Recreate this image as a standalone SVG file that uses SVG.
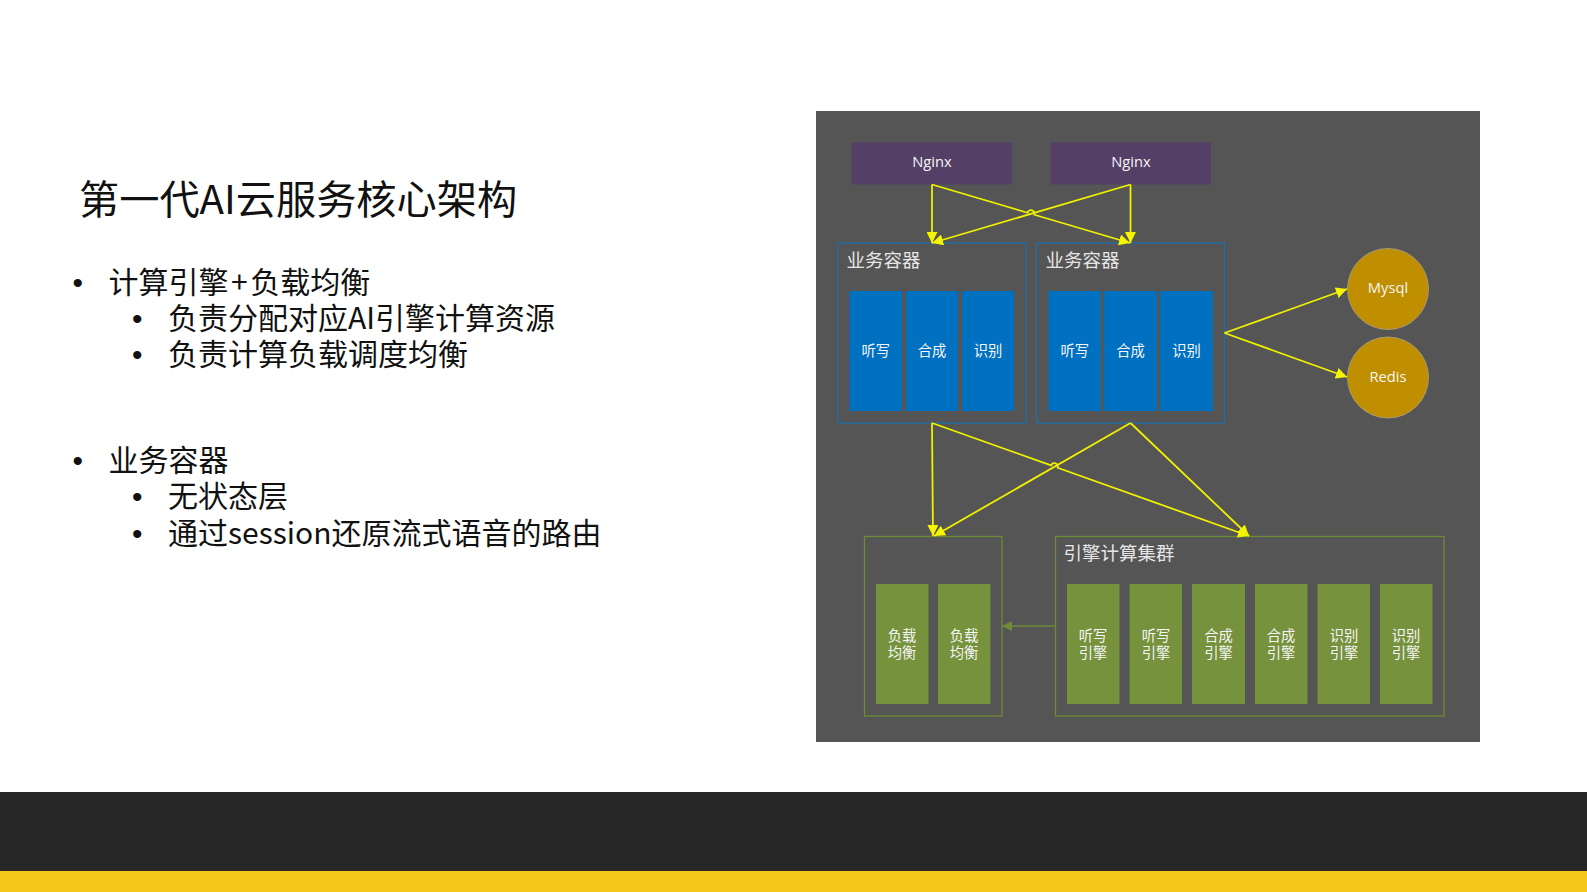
<svg xmlns="http://www.w3.org/2000/svg" width="1587" height="892" viewBox="0 0 1587 892">
<style>
text{font-family:"Noto Sans CJK SC","Noto Sans",sans-serif}
.h{font-size:40.200px;fill:#111}
.b{font-size:30px;fill:#111}
.d{font-size:30px;fill:#111;font-family:"Liberation Sans",sans-serif}
.l{font-size:14.300px;fill:#f5f5f5;text-anchor:middle}
.t{font-size:18.500px;fill:#e6e6e6}
.n{font-size:14.700px;fill:#f5f5f5;text-anchor:middle;font-family:"Open Sans",sans-serif}
.nx{fill:#543f66}
.bc{fill:none;stroke:#1f6fa8;stroke-width:1.300}
.bb{fill:#0070c0}
.gc{fill:none;stroke:#6f8a35;stroke-width:1.300}
.gb{fill:#76923c}
.db{fill:#bf8f00;stroke:#a69a74;stroke-width:1}
.y{fill:none;stroke:#f0f000;stroke-width:1.800}
.g{fill:none;stroke:#6f8a38;stroke-width:1.500}
</style>
<defs>
<marker id="ay" viewBox="0 0 10 10" refX="10" refY="5" markerWidth="11" markerHeight="11" markerUnits="userSpaceOnUse" orient="auto"><path d="M0 0L10 5L0 10Z" fill="#f5f500"/></marker>
<marker id="ag" viewBox="0 0 10 10" refX="10" refY="5" markerWidth="10" markerHeight="10" markerUnits="userSpaceOnUse" orient="auto"><path d="M0 0L10 5L0 10Z" fill="#6f8a38"/></marker>
</defs>
<rect width="1587" height="892" fill="#fff"/>
<rect x="0" y="792" width="1587" height="79" fill="#262626"/>
<rect x="0" y="871" width="1587" height="21" fill="#f5c71a"/>
<g id="slide-text">
<text class="h" x="79" y="214">第一代AI云服务核心架构</text>
<text class="d" x="72.500" y="293">•</text><text class="b" x="108.500" y="293">计算引擎<tspan dx="2.500">+</tspan><tspan dx="2.500">负载均衡</tspan></text>
<text class="d" x="132" y="329">•</text><text class="b" x="168" y="329">负责分配对应AI引擎计算资源</text>
<text class="d" x="132" y="365">•</text><text class="b" x="168" y="365">负责计算负载调度均衡</text>
<text class="d" x="72.500" y="471">•</text><text class="b" x="108.500" y="471">业务容器</text>
<text class="d" x="132" y="507">•</text><text class="b" x="168" y="507">无状态层</text>
<text class="d" x="132" y="544">•</text><text class="b" x="168" y="544">通过session还原流式语音的路由</text>
</g>
<rect id="panel" x="816" y="111" width="664" height="631" fill="#555555"/>
<g id="nginx-1"><rect class="nx" x="851.500" y="142.500" width="160.500" height="42"/><text class="n" x="932" y="167">Nginx</text></g>
<g id="nginx-2"><rect class="nx" x="1050.500" y="142.500" width="160.500" height="42"/><text class="n" x="1131" y="167">Nginx</text></g>
<g id="container-1"><rect class="bc" x="838" y="243" width="188" height="180"/><text class="t" x="846.500" y="267">业务容器</text>
<rect class="bb" x="849.500" y="291" width="52.500" height="120"/><text class="l" x="875.700" y="355.500">听写</text>
<rect class="bb" x="906" y="291" width="52" height="120"/><text class="l" x="932" y="355.500">合成</text>
<rect class="bb" x="962" y="291" width="52" height="120"/><text class="l" x="988" y="355.500">识别</text></g>
<g id="container-2"><rect class="bc" x="1036.500" y="243" width="188" height="180"/><text class="t" x="1045.500" y="267">业务容器</text>
<rect class="bb" x="1048.500" y="291" width="52.500" height="120"/><text class="l" x="1074.700" y="355.500">听写</text>
<rect class="bb" x="1104" y="291" width="53" height="120"/><text class="l" x="1130.500" y="355.500">合成</text>
<rect class="bb" x="1160" y="291" width="53" height="120"/><text class="l" x="1186.500" y="355.500">识别</text></g>
<g id="mysql"><circle class="db" cx="1388" cy="289" r="40.500"/><text class="n" x="1388" y="293">Mysql</text></g>
<g id="redis"><circle class="db" cx="1388" cy="377.500" r="40.500"/><text class="n" x="1388" y="382">Redis</text></g>
<g id="lb-group"><rect class="gc" x="864.500" y="536.500" width="137.500" height="179.500"/>
<rect class="gb" x="876" y="584" width="52.500" height="120"/><text class="l" y="640.700"><tspan x="902">负载</tspan><tspan x="902" dy="17">均衡</tspan></text>
<rect class="gb" x="938" y="584" width="52.500" height="120"/><text class="l" y="640.700"><tspan x="964">负载</tspan><tspan x="964" dy="17">均衡</tspan></text></g>
<g id="engine-cluster"><rect class="gc" x="1055.500" y="536.500" width="388.500" height="179.500"/><text class="t" x="1063.500" y="560">引擎计算集群</text>
<rect class="gb" x="1067" y="584" width="52.500" height="120"/><text class="l" y="640.700"><tspan x="1093">听写</tspan><tspan x="1093" dy="17">引擎</tspan></text>
<rect class="gb" x="1129.500" y="584" width="52.500" height="120"/><text class="l" y="640.700"><tspan x="1156">听写</tspan><tspan x="1156" dy="17">引擎</tspan></text>
<rect class="gb" x="1192" y="584" width="53" height="120"/><text class="l" y="640.700"><tspan x="1218.500">合成</tspan><tspan x="1218.500" dy="17">引擎</tspan></text>
<rect class="gb" x="1255" y="584" width="52.500" height="120"/><text class="l" y="640.700"><tspan x="1281">合成</tspan><tspan x="1281" dy="17">引擎</tspan></text>
<rect class="gb" x="1317.500" y="584" width="52.500" height="120"/><text class="l" y="640.700"><tspan x="1344">识别</tspan><tspan x="1344" dy="17">引擎</tspan></text>
<rect class="gb" x="1380" y="584" width="52.500" height="120"/><text class="l" y="640.700"><tspan x="1406">识别</tspan><tspan x="1406" dy="17">引擎</tspan></text></g>
<g id="connectors">
<path class="y" marker-end="url(#ay)" d="M932 184.500L932 243"/>
<path class="y" marker-end="url(#ay)" d="M1130.500 184.500L932 243"/>
<path class="y" marker-end="url(#ay)" d="M932 184.500L1027.600 212.750A3.500 3.500 0 0 1 1034.400 214.750L1130 243"/>
<path class="y" marker-end="url(#ay)" d="M1130.500 184.500L1130.500 243"/>
<path class="y" marker-end="url(#ay)" d="M1224.500 333L1347 289"/>
<path class="y" marker-end="url(#ay)" d="M1224.500 333L1347 377"/>
<path class="y" marker-end="url(#ay)" d="M932 423L933 536"/>
<path class="y" marker-end="url(#ay)" d="M1130.500 423L934 536"/>
<path class="y" marker-end="url(#ay)" d="M932 423L1051.100 465.400A3.500 3.500 0 0 1 1057.700 467.800L1249 536"/>
<path class="y" marker-end="url(#ay)" d="M1130.500 423L1249 536"/>
<path class="g" marker-end="url(#ag)" d="M1055 626L1002 626"/>
</g>
</svg>
